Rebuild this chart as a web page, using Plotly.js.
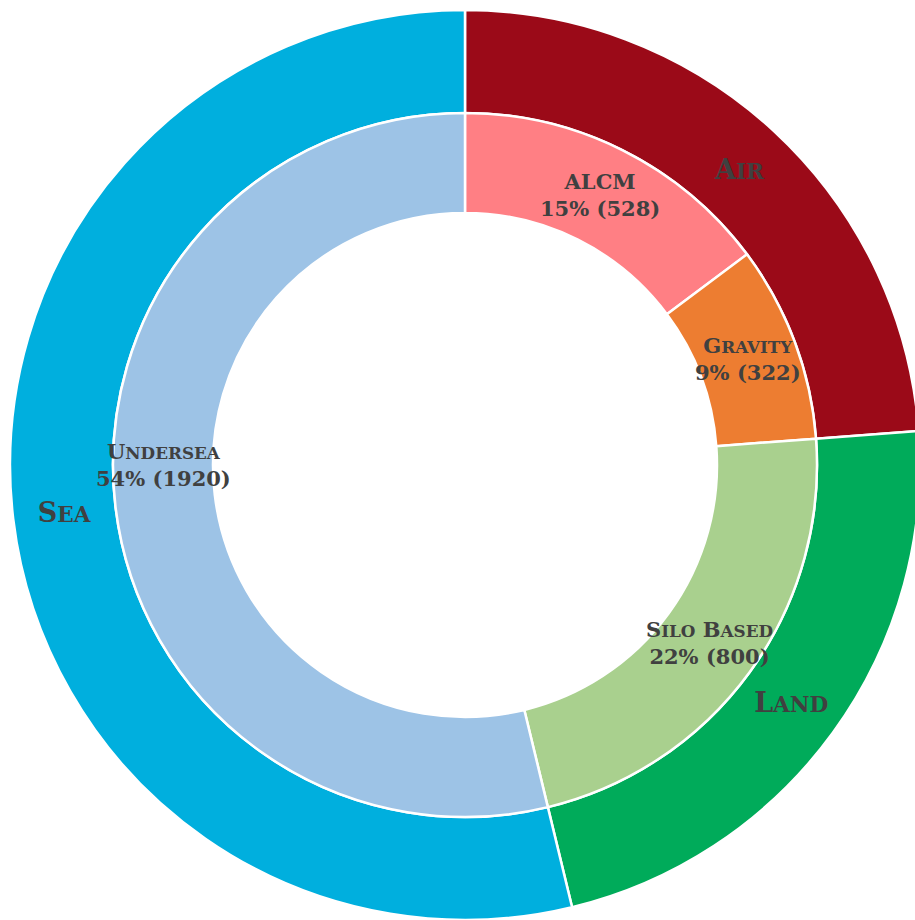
<!DOCTYPE html>
<html><head><meta charset="utf-8">
<script src="https://cdn.plot.ly/plotly-3.0.1.min.js"></script>
<style>html,body{margin:0;padding:0;overflow:hidden;background:#fff;}</style>
</head><body><div id="chart"></div>
<script>
const outerLabels = ["Air", "Land", "Sea"];
const outerValues = [850, 800, 1920];
const outerColors = ["#9B0A18", "#00AB5A", "#00AFDE"];
const innerLabels = ["ALCM", "Gravity", "Silo Based", "Undersea"];
const innerValues = [528, 322, 800, 1920];
const innerColors = ["#FF7F84", "#ED7D31", "#A9D08E", "#9DC3E6"];

const W = 930, H = 920;
const cx = 465, cy = 465, rOut = 455, rMid = 352, rIn = 252;
const fontFam = "DejaVu Serif, Liberation Serif, serif";
const textColor = "#404040";
const outerSize = 27, innerSize = 21, scRatio = 0.8;

// small caps: lowercase runs become smaller uppercase
function smallCaps(s, size) {
  let out = "", run = "";
  const flush = () => {
    if (run) { out += '<span style="font-size:' + (size * scRatio).toFixed(1) + 'px">' + run.toUpperCase() + '</span>'; run = ""; }
  };
  for (const ch of s) {
    if (ch !== ch.toUpperCase()) run += ch;
    else { flush(); out += ch; }
  }
  flush();
  return out;
}

const traces = [
  {
    type: "pie", labels: outerLabels, values: outerValues, sort: false,
    direction: "clockwise", rotation: 0, hole: rMid / rOut,
    marker: {colors: outerColors, line: {color: "#fff", width: 2.5}},
    text: outerLabels.map(l => "<b>" + smallCaps(l, outerSize) + "</b>"),
    textinfo: "text", textposition: "inside", insidetextorientation: "horizontal",
    textfont: {family: fontFam, size: outerSize, color: textColor},
    domain: {x: [(cx - rOut) / W, (cx + rOut) / W], y: [(H - cy - rOut) / H, (H - cy + rOut) / H]},
    hoverinfo: "label+value+percent", showlegend: false
  },
  {
    type: "pie", labels: innerLabels, values: innerValues, sort: false,
    direction: "clockwise", rotation: 0, hole: rIn / rMid,
    marker: {colors: innerColors, line: {color: "#fff", width: 2.5}},
    textinfo: "none",
    domain: {x: [(cx - rMid) / W, (cx + rMid) / W], y: [(H - cy - rMid) / H, (H - cy + rMid) / H]},
    hoverinfo: "label+value+percent", showlegend: false
  }
];

// inner labels: middle of each slice; slices wider than a half turn use the
// nearest quarter-turn direction inside the slice
const total = innerValues.reduce((a, b) => a + b, 0);
const rText = (rMid + rIn) / 2;
let cum = 0;
const annotations = innerLabels.map((lab, i) => {
  const a0 = cum / total * 2 * Math.PI;
  const a1 = (cum + innerValues[i]) / total * 2 * Math.PI;
  cum += innerValues[i];
  let ang = (a0 + a1) / 2;
  if (a1 - a0 > Math.PI) {
    const q = Math.round(ang / (Math.PI / 2)) * (Math.PI / 2);
    if (q > a0 && q < a1) ang = q;
  }
  const px = cx + rText * Math.sin(ang);
  const py = cy - rText * Math.cos(ang);
  const pct = Math.round(innerValues[i] / total * 100);
  return {
    xref: "paper", yref: "paper", x: px / W, y: (H - py) / H,
    xanchor: "center", yanchor: "middle", showarrow: false,
    text: "<b>" + smallCaps(lab, innerSize) + "<br>" + pct + "% (" + innerValues[i] + ")</b>",
    font: {family: fontFam, size: innerSize, color: textColor}
  };
});

Plotly.newPlot("chart", traces, {
  width: W, height: H, margin: {l: 0, r: 0, t: 0, b: 0},
  paper_bgcolor: "#fff", showlegend: false, annotations: annotations
}, {displayModeBar: false});
</script></body></html>
